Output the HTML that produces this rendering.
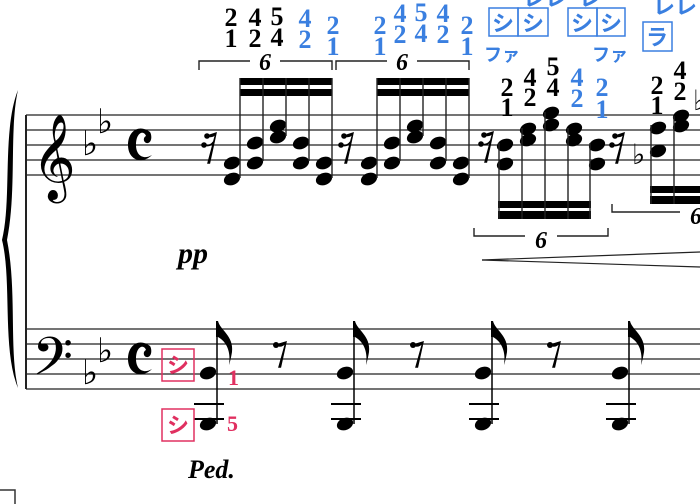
<!DOCTYPE html>
<html><head><meta charset="utf-8"><style>
html,body{margin:0;padding:0;background:#fff;width:700px;height:504px;overflow:hidden}
svg{display:block}
.f{font-family:"Liberation Serif",serif;font-weight:bold;font-size:26px;text-anchor:middle}
.b{fill:#3a7fe0}
.k{font-family:"Liberation Sans","Noto Sans CJK JP",sans-serif;font-size:22px;fill:#3a7fe0;text-anchor:middle;font-weight:bold}
.p{font-family:"Liberation Sans","Noto Sans CJK JP",sans-serif;font-size:22px;fill:#e03060;text-anchor:middle;font-weight:bold}
</style></head><body>
<svg width="700" height="504" viewBox="0 0 700 504" xmlns="http://www.w3.org/2000/svg">
<defs>
<ellipse id="h" rx="8.4" ry="6" transform="rotate(-22)"/>
<g id="r16" fill="#000"><circle cx="-3" cy="-12" r="2.8"/><circle cx="-6" cy="-3" r="2.8"/>
<path d="M-3 -12 Q3 -10 6 -15 L-2 15 L-0.5 15 L6 -15 Z" stroke="#000" stroke-width="1.4"/>
<path d="M-6 -3 Q0 -1 3.5 -6" fill="none" stroke="#000" stroke-width="1.6"/></g>
<g id="r8" fill="#000"><circle cx="-3" cy="-10" r="3"/><path d="M-3 -10 Q3 -7 7 -13 L0 12 L1.5 12 L7 -13Z" stroke="#000" stroke-width="1.4"/></g>
</defs>
<g stroke="#222" stroke-width="1.3">
<line x1="26" y1="115" x2="700" y2="115"/><line x1="26" y1="130" x2="700" y2="130"/><line x1="26" y1="145" x2="700" y2="145"/><line x1="26" y1="160" x2="700" y2="160"/><line x1="26" y1="175" x2="700" y2="175"/>
<line x1="26" y1="329" x2="700" y2="329"/><line x1="26" y1="344" x2="700" y2="344"/><line x1="26" y1="359" x2="700" y2="359"/><line x1="26" y1="374" x2="700" y2="374"/><line x1="26" y1="389" x2="700" y2="389"/>
<line x1="26" y1="115" x2="26" y2="389" stroke-width="2"/>
</g>
<path d="M18 90 C2 130 12 200 2 240 C12 280 2 350 18 388 C9 350 17 290 7 240 C17 190 9 130 18 90Z" fill="#000"/>
<text x="32" y="182" font-family="DejaVu Sans" font-size="74">𝄞</text>
<text x="32" y="385" font-family="DejaVu Sans" font-size="64">𝄢</text>
<g font-family="DejaVu Sans" font-size="34">
<text x="82" y="155">♭</text><text x="97" y="133">♭</text>
<text x="82" y="384">♭</text><text x="97" y="362">♭</text>
</g>
<g id="cc"><path d="M150 132 C140 124 128 130 128 145 C128 160 142 165 152 155 C144 160 136 156 136 145 C136 132 144 130 146 136 C142 138 144 144 148 143 C152 142 152 135 150 132Z" fill="#000"/></g>
<use href="#cc" y="214"/>
<g id="g1">
<use href="#r16" x="210" y="148"/>
<g fill="#000">
<use href="#h" x="232" y="163"/><use href="#h" x="232" y="179"/>
<use href="#h" x="255" y="143"/><use href="#h" x="255" y="163"/>
<use href="#h" x="278" y="126"/><use href="#h" x="278" y="137"/>
<use href="#h" x="301" y="143"/><use href="#h" x="301" y="163"/>
<use href="#h" x="324" y="163"/><use href="#h" x="324" y="179"/>
<rect x="240" y="78" width="92" height="7"/><rect x="240" y="89" width="92" height="7"/>
</g>
<g stroke="#222" stroke-width="1.4">
<line x1="240" y1="78" x2="240" y2="178"/><line x1="263" y1="78" x2="263" y2="161"/><line x1="286" y1="78" x2="286" y2="136"/><line x1="309" y1="78" x2="309" y2="161"/><line x1="332" y1="78" x2="332" y2="178"/>
<polyline points="199,70 199,61 250,61" fill="none"/><polyline points="280,61 332,61 332,70" fill="none"/>
</g>
<text x="265" y="70" font-family="Liberation Serif" font-style="italic" font-weight="bold" font-size="24" text-anchor="middle">6</text>
</g>
<use href="#g1" x="137"/>
<g class="f">
<text x="231" y="26">2</text><text x="231" y="47">1</text>
<text x="255" y="26">4</text><text x="255" y="47">2</text>
<text x="277" y="25">5</text><text x="277" y="46">4</text>
<text x="305" y="27" class="b">4</text><text x="305" y="48" class="b">2</text>
<text x="333" y="34" class="b">2</text><text x="333" y="55" class="b">1</text>
<text x="380" y="34" class="b">2</text><text x="380" y="55" class="b">1</text>
<text x="400" y="22" class="b">4</text><text x="400" y="43" class="b">2</text>
<text x="421" y="21" class="b">5</text><text x="421" y="42" class="b">4</text>
<text x="443" y="22" class="b">4</text><text x="443" y="43" class="b">2</text>
<text x="467" y="34" class="b">2</text><text x="467" y="55" class="b">1</text>
<text x="507" y="96">2</text><text x="507" y="116">1</text>
<text x="530" y="86">4</text><text x="530" y="106">2</text>
<text x="553" y="75">5</text><text x="553" y="96">4</text>
<text x="577" y="86" class="b">4</text><text x="577" y="107" class="b">2</text>
<text x="602" y="96" class="b">2</text><text x="602" y="118" class="b">1</text>
<text x="657" y="94">2</text><text x="657" y="114">1</text>
<text x="680" y="79">4</text><text x="680" y="100">2</text>
</g>
<g fill="none" stroke="#3a7fe0" stroke-width="1.5">
<rect x="489" y="8" width="29" height="28"/><rect x="518" y="8" width="30" height="28"/>
<rect x="568" y="8" width="29" height="28"/><rect x="597" y="8" width="28" height="28"/>
<rect x="643" y="22" width="29" height="29"/>
</g>
<g class="k">
<text x="503" y="31">シ</text><text x="533" y="31">シ</text><text x="582" y="31">シ</text><text x="611" y="31">シ</text><text x="657" y="45">ラ</text>
<text x="502" y="61" font-size="18">ファ</text><text x="610" y="61" font-size="18">ファ</text>
<text x="545" y="6">レレ</text><text x="590" y="6">レ</text><text x="675" y="14">レレ</text>
</g>
<use href="#r16" x="487" y="147"/>
<g fill="#000">
<use href="#h" x="505" y="145"/><use href="#h" x="505" y="164"/>
<use href="#h" x="528" y="129"/><use href="#h" x="528" y="140"/>
<use href="#h" x="551" y="113"/><use href="#h" x="551" y="125"/>
<use href="#h" x="574" y="129"/><use href="#h" x="574" y="140"/>
<use href="#h" x="597" y="145"/><use href="#h" x="597" y="164"/>
<rect x="498" y="201" width="93" height="7"/><rect x="498" y="211" width="93" height="8"/>
<use href="#h" x="658" y="151"/><use href="#h" x="658" y="128"/><use href="#h" x="681" y="116"/><use href="#h" x="681" y="126"/>
<rect x="650" y="186" width="50" height="7"/><rect x="650" y="196" width="50" height="8"/>
</g>
<g stroke="#222" stroke-width="1.4">
<line x1="499" y1="143" x2="499" y2="219"/><line x1="522" y1="128" x2="522" y2="219"/><line x1="545" y1="112" x2="545" y2="219"/><line x1="568" y1="128" x2="568" y2="219"/><line x1="590" y1="143" x2="590" y2="219"/>
<line x1="651" y1="125" x2="651" y2="204"/><line x1="674" y1="116" x2="674" y2="204"/>
<polyline points="474,228 474,236 525,236" fill="none"/><polyline points="557,236 608,236 608,228" fill="none"/>
<polyline points="612,204 612,212 680,212" fill="none"/>
<line x1="482" y1="260" x2="700" y2="252" stroke-width="1.2"/><line x1="482" y1="260" x2="700" y2="267" stroke-width="1.2"/>
</g>
<text x="541" y="248" font-family="Liberation Serif" font-style="italic" font-weight="bold" font-size="24" text-anchor="middle">6</text>
<text x="690" y="224" font-family="Liberation Serif" font-style="italic" font-weight="bold" font-size="24">6</text>
<use href="#r16" x="618" y="148"/>
<text x="632" y="164" font-family="DejaVu Sans" font-size="28">♭</text>
<text x="693" y="110" font-family="DejaVu Sans" font-size="28">♭</text>
<text x="178" y="263" font-family="Liberation Serif" font-style="italic" font-weight="bold" font-size="30">pp</text>
<g id="bn">
<g fill="#000"><use href="#h" x="208" y="373"/><use href="#h" x="208" y="424"/></g>
<g stroke="#000" stroke-width="1.5">
<line x1="217" y1="322" x2="217" y2="424"/>
<line x1="194" y1="404" x2="224" y2="404" stroke-width="2"/><line x1="194" y1="419" x2="224" y2="419" stroke-width="2"/>
</g>
<path d="M216 321 L218 321 C220 330 234 336 232 352 C231 358 230 362 229 365 C231 352 227 342 218 337 L216 337Z" fill="#000"/>
</g>
<use href="#bn" x="137"/><use href="#bn" x="275"/><use href="#bn" x="412"/>
<use href="#r8" x="279" y="355"/><use href="#r8" x="416" y="355"/><use href="#r8" x="553" y="355"/>
<g fill="none" stroke="#e03060" stroke-width="1.5"><rect x="162" y="349" width="32" height="32"/><rect x="162" y="409" width="32" height="32"/></g>
<g class="p"><text x="178" y="373">シ</text><text x="178" y="433">シ</text></g>
<g font-family="Liberation Serif" font-weight="bold" font-size="22" fill="#e03060"><text x="228" y="385">1</text><text x="227" y="431">5</text></g>
<text x="188" y="478" font-family="Liberation Serif" font-style="italic" font-weight="bold" font-size="26">Ped.</text>
<polyline points="0,490 15,490 15,504" fill="none" stroke="#333" stroke-width="1.5"/>
</svg>
</body></html>
